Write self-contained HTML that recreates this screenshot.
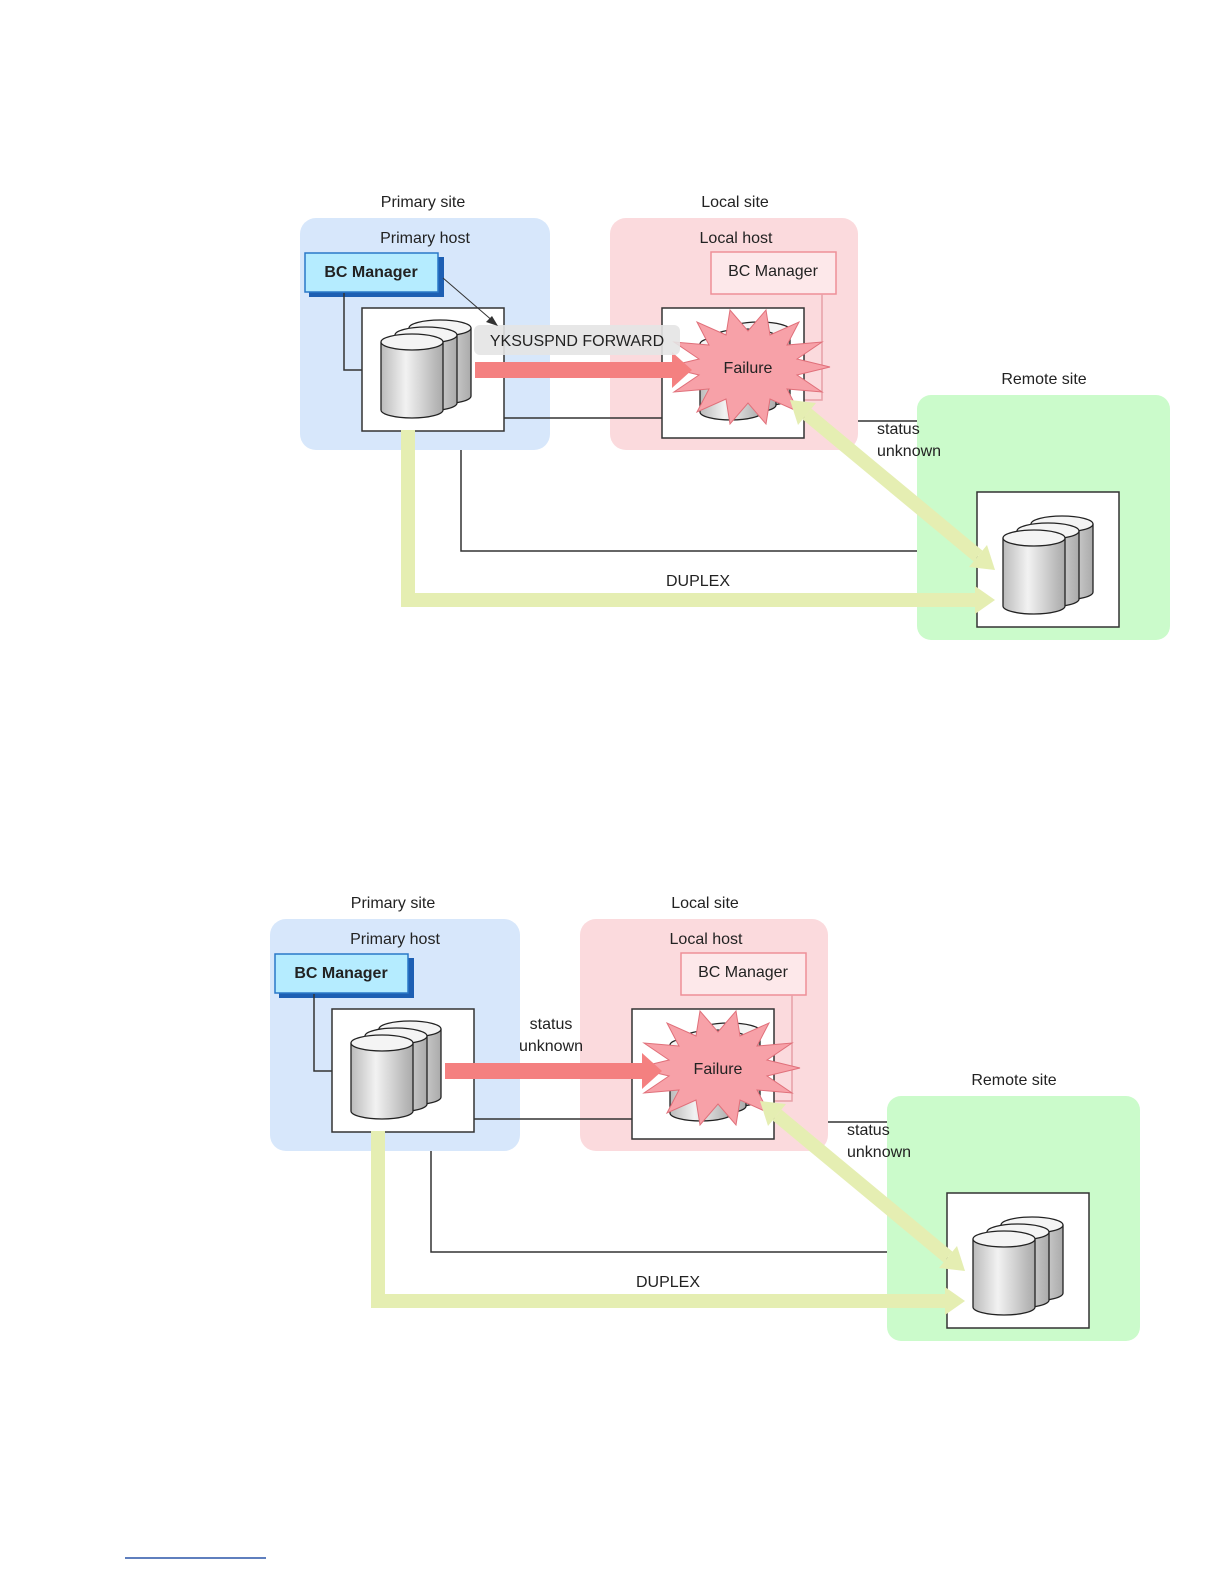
<!DOCTYPE html>
<html><head><meta charset="utf-8"><style>
html,body{margin:0;padding:0;background:#fff;width:1224px;height:1584px;overflow:hidden}
svg{display:block}
text{font-family:"Liberation Sans",sans-serif;fill:#222}
</style></head><body>
<svg width="1224" height="1584" viewBox="0 0 1224 1584" xmlns="http://www.w3.org/2000/svg">
<defs>
<linearGradient id="cg" x1="0" x2="1"><stop offset="0" stop-color="#bbb"/><stop offset=".4" stop-color="#f2f2f2"/><stop offset="1" stop-color="#aaa"/></linearGradient>
<g id="cyl">
<path d="M0,8 L0,76 A31,8 0 0 0 62,76 L62,8" fill="url(#cg)" stroke="#222" stroke-width="1.3"/>
<ellipse cx="31" cy="8" rx="31" ry="8" fill="#f4f4f4" stroke="#222" stroke-width="1.3"/>
</g>
<g id="stack">
<use href="#cyl" x="28" y="-14"/>
<use href="#cyl" x="14" y="-7"/>
<use href="#cyl" x="0" y="0"/>
</g>
<g id="diag">
<rect x="300" y="218" width="250" height="232" rx="16" fill="#d7e7fb"/>
<rect x="610" y="218" width="248" height="232" rx="16" fill="#fbdadd"/>
<rect x="917" y="395" width="253" height="245" rx="14" fill="#cbfbcb"/>
<text x="423" y="207" font-size="16" text-anchor="middle">Primary site</text>
<text x="735" y="207" font-size="16" text-anchor="middle">Local site</text>
<text x="1044" y="384" font-size="16" text-anchor="middle">Remote site</text>
<text x="425" y="243" font-size="16" text-anchor="middle">Primary host</text>
<text x="736" y="243" font-size="16" text-anchor="middle">Local host</text>
<rect x="309" y="257" width="135" height="40" fill="#1d5fb3"/>
<rect x="305" y="253" width="133" height="39" fill="#b5ecff" stroke="#2a78c8" stroke-width="1.5"/>
<text x="371" y="277" font-size="16" font-weight="bold" text-anchor="middle">BC Manager</text>
<rect x="711" y="252" width="125" height="42" fill="#fde8ea" stroke="#ee8f98" stroke-width="1.5"/>
<text x="773" y="276" font-size="16" text-anchor="middle">BC Manager</text>
<polyline points="344,293 344,370 362,370" fill="none" stroke="#333" stroke-width="1.5"/>
<polyline points="822,294 822,400 804,400" fill="none" stroke="#e8a0a6" stroke-width="1.5"/>
<rect x="362" y="308" width="142" height="123" fill="#fff" stroke="#333" stroke-width="1.5"/>
<rect x="662" y="308" width="142" height="130" fill="#fff" stroke="#333" stroke-width="1.5"/>
<rect x="977" y="492" width="142" height="135" fill="#fff" stroke="#333" stroke-width="1.5"/>
<line x1="504" y1="418" x2="662" y2="418" stroke="#333" stroke-width="1.5"/>
<line x1="858" y1="421" x2="917" y2="421" stroke="#333" stroke-width="1.5"/>
<polyline points="461,450 461,551 917,551" fill="none" stroke="#333" stroke-width="1.5"/>
<use href="#stack" x="381" y="334"/>
<use href="#stack" x="700" y="336"/>
<use href="#stack" x="1003" y="530"/>
<polygon points="830,367 797,375 822,392 787,389 799,412 770,399 766,424 748,403 730,424 726,399 697,412 709,389 674,392 699,375 666,367 699,359 674,342 709,345 697,322 726,335 730,310 748,331 766,310 770,335 799,322 787,345 822,342 797,359" fill="#f7a1a8" stroke="#e0707a" stroke-width="1"/>
<text x="748" y="373" font-size="16" text-anchor="middle">Failure</text>
<polygon points="475,362 672,362 672,352 692,370 672,388 672,378 475,378" fill="#f48080"/>
<polyline points="408,430 408,600 975,600" fill="none" stroke="#e5eeb2" stroke-width="14"/>
<polygon points="975,586 995,600 975,614" fill="#e5eeb2"/>
<line x1="807" y1="414" x2="978" y2="556" stroke="#e5eeb2" stroke-width="14"/>
<polygon points="995,570 969,567 987,545" fill="#e5eeb2"/>
<polygon points="790,400 798,425 816,403" fill="#e5eeb2"/>
<text x="698" y="586" font-size="16" text-anchor="middle">DUPLEX</text>
<text x="877" y="434" font-size="16">status</text>
<text x="877" y="456" font-size="16">unknown</text>
</g>
</defs>
<use href="#diag"/>
<rect x="474" y="325" width="206" height="30" rx="6" fill="#e4e4e4" opacity=".9"/>
<text x="577" y="346" font-size="16" text-anchor="middle">YKSUSPND FORWARD</text>
<line x1="443" y1="278" x2="494" y2="322" stroke="#333" stroke-width="1"/>
<polygon points="498,326 486,322 492,316" fill="#333"/>
<g transform="translate(-30,701)">
<use href="#diag"/>
<text x="581" y="328" font-size="16" text-anchor="middle">status</text>
<text x="581" y="350" font-size="16" text-anchor="middle">unknown</text>
</g>
<line x1="125" y1="1558" x2="266" y2="1558" stroke="#2a55a8" stroke-width="1.5"/>
</svg>
</body></html>
